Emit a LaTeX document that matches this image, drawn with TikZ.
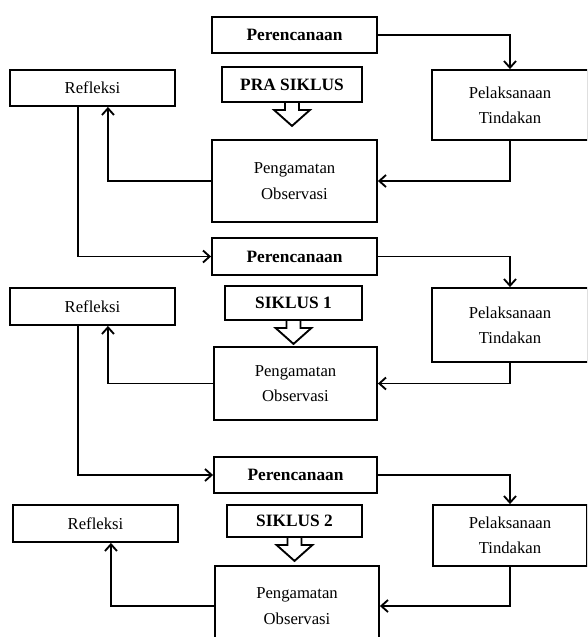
\documentclass[tikz,border=0pt]{standalone}
\usepackage{fontspec}
\setmainfont{Liberation Serif}
\usetikzlibrary{arrows.meta}

\begin{document}
\begin{tikzpicture}[
        x=0.75pt, y=-0.75pt,
        >={Straight Barb[length=5pt,width=9pt]},
        line width=1.4pt,
        every node/.style={font=\fontsize{12.5}{19}\selectfont},
        box/.style={draw, inner sep=0pt, align=center},
        boldbox/.style={box, font=\fontsize{13}{16}\selectfont\bfseries}
    ]
    \useasboundingbox (0,0) rectangle (587,637);
    \clip (0,0) rectangle (587,637);

    % Pra siklus
    \node[boldbox, minimum width=123.75pt, minimum height=27pt] (plan1) at (294.5,35) {Perencanaan};
    \node[box, minimum width=123.75pt, minimum height=27pt] (refl1) at (92.5,88) {Refleksi};
    \node[boldbox, minimum width=105pt, minimum height=26.25pt] (pra) at (292,84.5) {PRA SIKLUS};
    \node[box, minimum width=117pt, minimum height=52.5pt] (act1) at (510,105) {Pelaksanaan\\Tindakan};
    \node[box, minimum width=123.75pt, minimum height=61.5pt] (obs1) at (294.5,181) {Pengamatan\\Observasi};

    % Siklus 1
    \node[boldbox, minimum width=123.75pt, minimum height=27.75pt] (plan2) at (294.5,256.5) {Perencanaan};
    \node[box, minimum width=123.75pt, minimum height=27.75pt] (refl2) at (92.5,306.5) {Refleksi};
    \node[boldbox, minimum width=102.75pt, minimum height=25.5pt] (sik1) at (293.5,303) {SIKLUS 1};
    \node[box, minimum width=117pt, minimum height=55.5pt] (act2) at (510,325) {Pelaksanaan\\Tindakan};
    \node[box, minimum width=122.25pt, minimum height=54.75pt] (obs2) at (295.5,383.5) {Pengamatan\\Observasi};

    % Siklus 2
    \node[boldbox, minimum width=122.25pt, minimum height=27pt] (plan3) at (295.5,475) {Perencanaan};
    \node[box, minimum width=123.75pt, minimum height=27.75pt] (refl3) at (95.5,523.5) {Refleksi};
    \node[boldbox, minimum width=101.25pt, minimum height=24pt] (sik2) at (294.5,521) {SIKLUS 2};
    \node[box, minimum width=115.5pt, minimum height=45.75pt] (act3) at (510,535.5) {Pelaksanaan\\Tindakan};
    \node[box, minimum width=123pt, minimum height=60pt] (obs3) at (297,606) {Pengamatan\\Observasi};

    % Hollow arrows
    \foreach \s in {pra,sik1,sik2}
      \draw (\s.south) ++(-7,0) -- ++(0,7) -- ++(-11,0) -- ++(18,16)
        -- ++(18,-16) -- ++(-11,0) -- ++(0,-7);

    % Cycle arrows
    \foreach \i in {1,2,3} {
      \draw[->] (plan\i.east) -| (act\i.north);
      \draw[->] (act\i.south) |- (obs\i.east);
      \draw[->] (obs\i.west) -| ([xshift=11.6pt]refl\i.south);
    }

    % To next cycle
    \draw[->] ([xshift=-10.9pt]refl1.south) |- (plan2.west);
    \draw[->] ([xshift=-10.9pt]refl2.south) |- (plan3.west);
\end{tikzpicture}
\end{document}
